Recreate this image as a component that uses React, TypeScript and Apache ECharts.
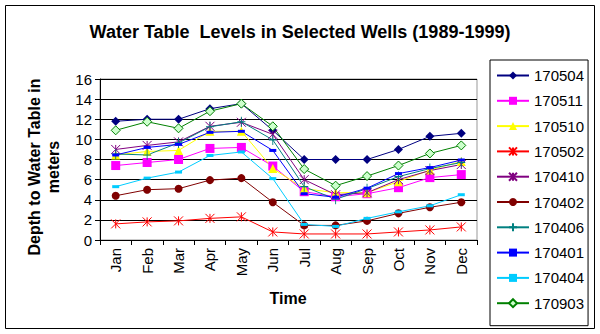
import React, { useEffect, useRef } from "react";
import * as echarts from "echarts";

const months = ["Jan", "Feb", "Mar", "Apr", "May", "Jun", "Jul", "Aug", "Sep", "Oct", "Nov", "Dec"];
const yTicks = [0, 2, 4, 6, 8, 10, 12, 14, 16];

const w170504 = [11.8, 12.0, 12.0, 13.05, 13.55, 10.9, 8.0, 8.0, 8.0, 9.0, 10.3, 10.6];
const w170511 = [7.4, 7.7, 8.0, 9.1, 9.2, 7.35, 4.8, 4.3, 4.6, 5.2, 6.2, 6.5];
const w170510 = [8.45, 8.8, 8.9, 10.8, 10.8, 7.1, 5.1, 4.7, 4.7, 5.8, 6.95, 7.8];
const w170502 = [1.6, 1.8, 1.9, 2.15, 2.3, 0.8, 0.6, 0.6, 0.6, 0.8, 1.0, 1.3];
const w170410 = [9.0, 9.4, 9.75, 11.3, 11.7, 10.5, 6.0, 4.5, 4.7, 6.0, 6.9, 7.5];
const w170402 = [4.4, 5.0, 5.1, 5.95, 6.15, 3.75, 1.45, 1.45, 1.9, 2.65, 3.25, 3.75];
const w170406 = [8.55, 8.45, 9.65, 11.25, 11.75, 9.95, 5.3, 4.05, 5.1, 6.3, 7.1, 7.7];
const w170401 = [8.45, 9.2, 9.5, 10.7, 10.8, 8.9, 4.6, 4.25, 5.15, 6.6, 7.2, 7.95];
const w170404 = [5.3, 6.15, 6.75, 8.4, 8.75, 6.1, 1.55, 1.35, 2.15, 2.8, 3.4, 4.5];
const w170903 = [10.9, 11.75, 11.1, 12.8, 13.55, 11.3, 7.05, 5.4, 6.35, 7.4, 8.6, 9.4];

const seriesNames = ["170504", "170511", "170510", "170502", "170410", "170402", "170406", "170401", "170404", "170903"];
const seriesData = [w170504, w170511, w170510, w170502, w170410, w170402, w170406, w170401, w170404, w170903];
const seriesColors = ["#000080", "#ff00ff", "#ffff00", "#ff0000", "#800080", "#800000", "#008080", "#0000ff", "#00ccff", "#008000"];

const STAR = "path://M0,0L10,10M10,0L0,10M5,0L5,10";
const PLUS = "path://M5,0L5,10M0,5L10,5";
const seriesSymbols: any[] = ["diamond", "rect", "triangle", STAR, STAR, "circle", PLUS, "rect", "rect", "diamond"];
const seriesSymbolSizes: any[] = [9, 9, 9, 9, 9, 8, [8, 10], [7, 3], [7, 3], 9];

const FONT = "Arial, 'Liberation Sans', sans-serif";

export default function App() {
  const ref = useRef<HTMLDivElement>(null);
  useEffect(() => {
    const chart = echarts.init(ref.current!, undefined, { renderer: "svg" });
    const series = seriesNames.map((name, i) => {
      const isStroke = seriesSymbols[i] === STAR || seriesSymbols[i] === PLUS;
      const isOpen = name === "170903";
      return {
        name,
        type: "line",
        data: seriesData[i],
        symbol: seriesSymbols[i],
        symbolSize: seriesSymbolSizes[i],
        showAllSymbol: true,
        lineStyle: { color: seriesColors[i], width: 1 },
        itemStyle: {
          color: isOpen ? "#ccffcc" : seriesColors[i],
          borderColor: seriesColors[i],
          borderWidth: isStroke || isOpen ? 1 : 0,
        },
        emphasis: { disabled: true },
      };
    });
    chart.setOption({
      animation: false,
      backgroundColor: "#ffffff",
      textStyle: { fontFamily: FONT },
      grid: { left: 100, right: 123, top: 79, bottom: 94, show: true, borderColor: "#999999", borderWidth: 1, backgroundColor: "transparent" },
      xAxis: {
        type: "category",
        data: months,
        boundaryGap: true,
        axisLine: { lineStyle: { color: "#000", width: 1 } },
        axisTick: { show: true, inside: false, length: 5, lineStyle: { color: "#000" } },
        axisLabel: { rotate: 90, fontSize: 15, color: "#000", margin: 8, fontFamily: FONT },
        splitLine: { show: false },
      },
      yAxis: {
        type: "value",
        min: yTicks[0],
        max: yTicks[yTicks.length - 1],
        interval: 2,
        axisLine: { show: true, lineStyle: { color: "#000", width: 1 } },
        axisTick: { show: true, inside: false, length: 5, lineStyle: { color: "#000" } },
        axisLabel: { fontSize: 15, color: "#000", margin: 8, fontFamily: FONT },
        splitLine: { show: true, lineStyle: { color: "#000", width: 1 } },
      },
      legend: {
        orient: "vertical",
        left: 490,
        top: 60,
        padding: [8, 4, 15, 6],
        itemWidth: 32,
        itemHeight: 10,
        itemGap: 10.3,
        borderColor: "#000",
        borderWidth: 1,
        textStyle: { fontSize: 15, lineHeight: 15, color: "#000", fontFamily: FONT },
        data: seriesNames,
      },
      title: {
        text: "Water Table  Levels in Selected Wells (1989-1999)",
        left: "center",
        top: 18,
        textStyle: { fontSize: 18, fontWeight: "bold", color: "#000", fontFamily: FONT },
      },
      graphic: [
        {
          type: "rect",
          shape: { x: 5.5, y: 5.5, width: 589, height: 323 },
          style: { fill: "none", stroke: "#000", lineWidth: 1 },
          silent: true,
          z: -1,
        },
        {
          type: "text",
          x: 44,
          y: 167,
          rotation: Math.PI / 2,
          style: {
            text: "Depth to Water Table in\nmeters",
            textAlign: "center",
            textVerticalAlign: "middle",
            fontSize: 16,
            fontWeight: "bold",
            lineHeight: 19,
            fill: "#000",
            fontFamily: FONT,
          },
        },
        {
          type: "text",
          x: 288,
          y: 298,
          style: {
            text: "Time",
            textAlign: "center",
            textVerticalAlign: "middle",
            fontSize: 16,
            fontWeight: "bold",
            fill: "#000",
            fontFamily: FONT,
          },
        },
      ],
      series,
    });
    return () => chart.dispose();
  }, []);
  return <div ref={ref} style={{ width: 600, height: 334, position: "absolute", left: 0, top: 0 }} />;
}
